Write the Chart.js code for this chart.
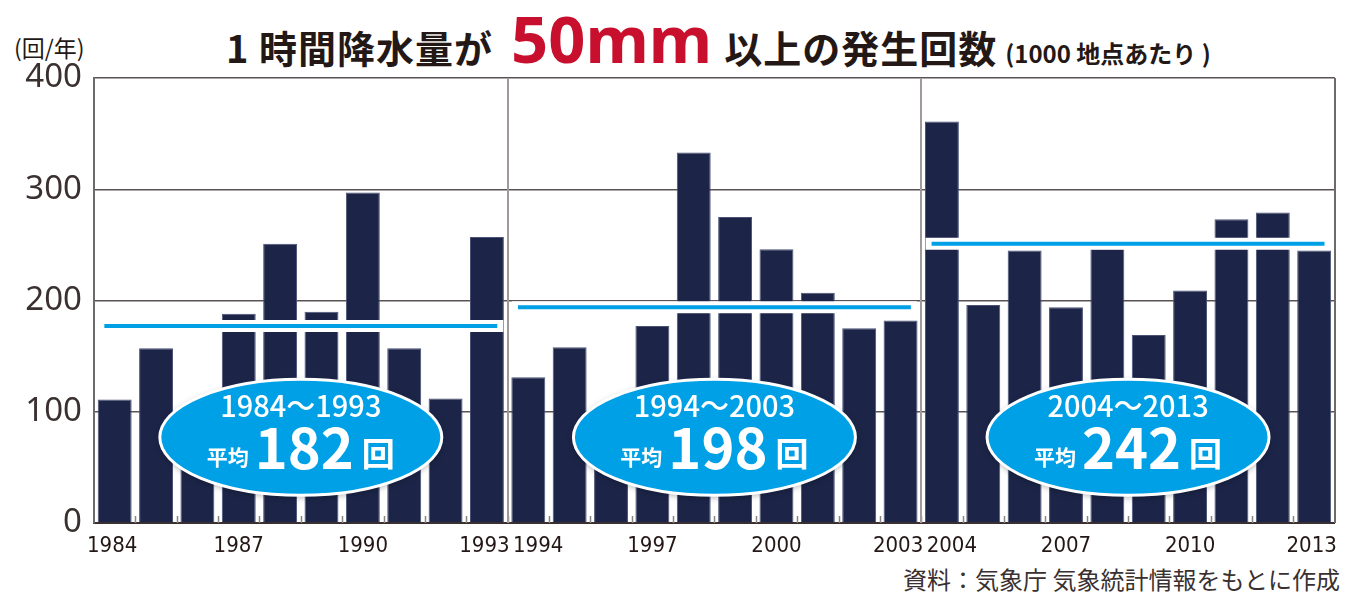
<!DOCTYPE html>
<html lang="ja">
<head>
  <meta charset="UTF-8" />
  <title>1時間降水量が50mm以上の発生回数</title>
  <script src="https://cdn.jsdelivr.net/npm/chart.js"></script>
  <style>
    * {
      margin: 0;
      padding: 0;
      box-sizing: border-box;
    }

    body {
      width: 1352px;
      height: 592px;
      background: #fff;
      color: #231815;
      font-family: 'Noto Sans CJK JP', sans-serif;
      position: relative;
      overflow: hidden;
    }

    .chart-box {
      position: absolute;
      left: 0;
      top: 0;
      width: 1352px;
      height: 592px;
    }

    .title {
      position: absolute;
      left: 226px;
      top: 6px;
      white-space: nowrap;
      font-weight: 700;
      display: flex;
      align-items: baseline;
      line-height: 1;
    }

    .title .main {
      font-size: 38px;
      letter-spacing: 1px;
    }

    .title .big {
      font-family: 'Noto Sans', sans-serif;
      font-size: 65px;
      color: #c8102e;
      margin: 0 12px 0 18px;
      letter-spacing: 0;
    }

    .title .note {
      font-size: 24px;
      margin-left: 8px;
    }

    .unit {
      position: absolute;
      left: 14px;
      top: 30px;
      font-size: 23px;
    }

    .source {
      position: absolute;
      right: 12px;
      top: 561px;
      font-size: 24px;
      color: #3a3030;
    }
  </style>
</head>

<body>
  <div class="title">
    <span class="main">1 時間降水量が</span>
    <span class="big">50mm</span>
    <span class="main">以上の発生回数</span>
    <span class="note">(1000 地点あたり )</span>
  </div>
  <div class="unit">(回/年)</div>
  <div class="source">資料：気象庁 気象統計情報をもとに作成</div>

  <div class="chart-box">
    <canvas id="rainChart"></canvas>
  </div>

  <script>
    const years = ['1984', '1985', '1986', '1987', '1988', '1989', '1990', '1991', '1992', '1993',
                   '1994', '1995', '1996', '1997', '1998', '1999', '2000', '2001', '2002', '2003',
                   '2004', '2005', '2006', '2007', '2008', '2009', '2010', '2011', '2012', '2013'];
    const counts = [111, 157, 100, 188, 251, 190, 297, 157, 112, 257,
                    131, 158, 96, 177, 333, 275, 246, 207, 175, 182,
                    361, 196, 245, 194, 247, 169, 209, 273, 279, 245];
    const labelYears = ['1984', '1987', '1990', '1993', '1994', '1997', '2000', '2003', '2004', '2007', '2010', '2013'];
    const periodLabels = ['1984～1993', '1994～2003', '2004～2013'];
    const periodAverages = [182, 198, 242];
    const averageLineLevels = [177, 194, 251];
    const yTicks = [0, 100, 200, 300, 400];

    const PANEL = 10;

    // one horizontal segment per period, broken by a null point
    const avgPoints = [];
    averageLineLevels.forEach((v, p) => {
      const start = p * PANEL;
      avgPoints.push({ x: start - 0.25, y: v });
      avgPoints.push({ x: start + PANEL - 0.75, y: v });
      avgPoints.push({ x: start + PANEL - 0.5, y: null });
    });

    const panelPlugin = {
      id: 'panels',
      beforeDatasetsDraw(chart) {
        const { ctx, chartArea } = chart;
        const xl = chart.scales.xl;
        ctx.save();
        // small ticks between the bars
        ctx.strokeStyle = '#8a8585';
        ctx.lineWidth = 1.5;
        for (let i = 0; i < years.length - 1; i++) {
          const px = Math.round(xl.getPixelForValue(i + 0.5)) + 0.5;
          ctx.beginPath();
          ctx.moveTo(px, chartArea.bottom);
          ctx.lineTo(px, chartArea.bottom - 7);
          ctx.stroke();
        }
        // period dividers and right frame
        for (let p = 1; p <= 3; p++) {
          const px = Math.round(xl.getPixelForValue(p * PANEL - 0.5));
          ctx.strokeStyle = p < 3 ? '#a09a9a' : '#6f6a6a';
          ctx.lineWidth = 2;
          ctx.beginPath();
          ctx.moveTo(px, chartArea.top);
          ctx.lineTo(px, chartArea.bottom);
          ctx.stroke();
        }
        ctx.restore();
      },
      afterDatasetsDraw(chart) {
        const { ctx } = chart;
        const xl = chart.scales.xl;
        const y = chart.scales.y;
        const cy = y.getPixelForValue(77);
        periodLabels.forEach((label, p) => {
          const cx = xl.getPixelForValue(p * PANEL + 4.5);
          ctx.save();
          ctx.shadowColor = 'rgba(0, 0, 0, 0.35)';
          ctx.shadowBlur = 6;
          ctx.shadowOffsetY = 2;
          ctx.beginPath();
          ctx.ellipse(cx, cy, 141, 58, 0, 0, Math.PI * 2);
          ctx.fillStyle = '#00a0e6';
          ctx.fill();
          ctx.shadowColor = 'transparent';
          ctx.lineWidth = 3;
          ctx.strokeStyle = '#ffffff';
          ctx.stroke();

          ctx.fillStyle = '#ffffff';
          ctx.textBaseline = 'middle';
          ctx.textAlign = 'center';
          ctx.font = '500 29px "Noto Sans CJK JP"';
          ctx.fillText(label, cx, cy - 31);

          // 平均 NNN 回
          const fSmall = '700 21px "Noto Sans CJK JP"';
          const fNum = '700 56px "Noto Sans CJK JP"';
          const fKai = '700 33px "Noto Sans CJK JP"';
          const num = String(periodAverages[p]);
          ctx.font = fSmall; const w1 = ctx.measureText('平均').width;
          ctx.font = fNum; const w2 = ctx.measureText(num).width;
          ctx.font = fKai; const w3 = ctx.measureText('回').width;
          const gap1 = 6, gap2 = 8;
          let x0 = cx - (w1 + gap1 + w2 + gap2 + w3) / 2;
          const base = cy + 30;
          ctx.textAlign = 'left';
          ctx.textBaseline = 'alphabetic';
          ctx.font = fSmall; ctx.fillText('平均', x0, base - 2);
          x0 += w1 + gap1;
          ctx.font = fNum; ctx.fillText(num, x0, base + 2);
          x0 += w2 + gap2;
          ctx.font = fKai; ctx.fillText('回', x0, base - 1);
          ctx.restore();
        });
      }
    };

    const ctx = document.getElementById('rainChart').getContext('2d');

    const rainChart = new Chart(ctx, {
      type: 'bar',
      data: {
        labels: years,
        datasets: [
          {
            label: '発生回数',
            data: counts,
            xAxisID: 'x',
            grouped: false,
            backgroundColor: '#1c2548',
            borderColor: '#4a5276',
            borderWidth: 1,
            barPercentage: 0.82,
            categoryPercentage: 1,
            order: 3
          },
          {
            type: 'line',
            label: 'halo',
            data: avgPoints,
            xAxisID: 'xl',
            borderColor: '#ffffff',
            borderWidth: 12,
            borderCapStyle: 'square',
            pointRadius: 0,
            spanGaps: false,
            order: 2
          },
          {
            type: 'line',
            label: '平均',
            data: avgPoints,
            xAxisID: 'xl',
            borderColor: '#00a0e6',
            borderWidth: 4,
            borderCapStyle: 'butt',
            pointRadius: 0,
            spanGaps: false,
            order: 1
          }
        ]
      },
      options: {
        responsive: true,
        maintainAspectRatio: false,
        animation: false,
        layout: {
          padding: { top: 78, right: 11, left: 0, bottom: 0 }
        },
        plugins: {
          legend: { display: false },
          tooltip: { enabled: false }
        },
        scales: {
          x: {
            type: 'category',
            offset: true,
            grid: { display: false, drawTicks: false, offset: true },
            border: { color: '#3a3030', width: 2 },
            afterFit: s => { s.height = 69; },
            ticks: {
              autoSkip: false,
              maxRotation: 0,
              padding: 10,
              color: '#231815',
              font: { family: '"DejaVu Sans Condensed", sans-serif', size: 22 },
              callback: function (value, index) {
                const y = this.getLabelForValue(value);
                if (!labelYears.includes(y)) return '';
                // nudge the labels that meet at a period boundary apart
                if (index % PANEL === 0 && index > 0) return '\u2003' + y;
                if (index % PANEL === PANEL - 1 || index === 0) return y + '\u2005';
                return y;
              }
            }
          },
          xl: {
            type: 'linear',
            display: false,
            offset: false,
            grid: { offset: false },
            min: -0.5,
            max: 29.5
          },
          y: {
            min: 0,
            max: 400,
            afterFit: s => { s.width = 94; },
            afterBuildTicks: s => { s.ticks = yTicks.map(v => ({ value: v })); },
            grid: { color: '#5b5353', lineWidth: 1.5, drawTicks: false },
            border: { color: '#6f6a6a', width: 2 },
            ticks: {
              padding: 12,
              color: '#3a3030',
              font: { family: '"Noto Sans", sans-serif', size: 33 }
            }
          }
        }
      },
      plugins: [panelPlugin]
    });
  </script>
</body>
</html>
